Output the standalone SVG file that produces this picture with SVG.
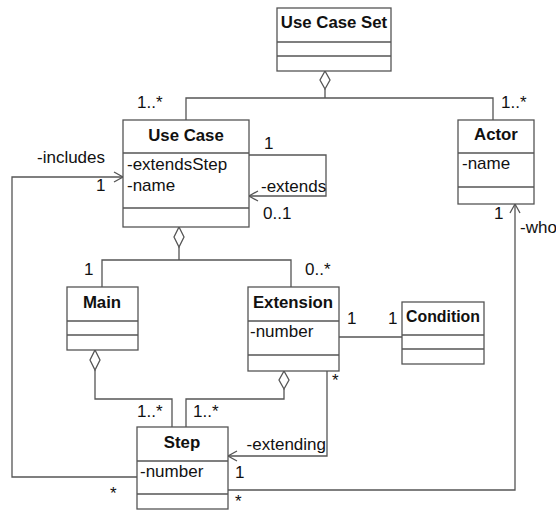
<svg xmlns="http://www.w3.org/2000/svg" width="556" height="511" viewBox="0 0 556 511">
<defs>
<style>
.box{fill:#fff;stroke:#555;stroke-width:1.3}
.ln{fill:none;stroke:#555;stroke-width:1.3}
.dia{fill:#fff;stroke:#555;stroke-width:1.3}
.t{font-family:"Liberation Sans",Arial,sans-serif;font-size:17px;fill:#111}
.b{font-family:"Liberation Sans",Arial,sans-serif;font-size:16.8px;font-weight:bold;fill:#111;text-anchor:middle}
</style>
<marker id="open" markerWidth="12" markerHeight="12" refX="10" refY="6" orient="auto" markerUnits="userSpaceOnUse">
<path d="M1,1 L10,6 L1,11" fill="none" stroke="#555" stroke-width="1.3"/>
</marker>
</defs>
<rect width="556" height="511" fill="#fff"/>

<g id="connectors">
<path class="ln" d="M325,89 V98 M186,120 V98 H493 V120"/>
<path class="dia" d="M325,71 L330,80 L325,89 L320,80 Z"/>
<path class="ln" d="M137,477 H12 V177 H123" marker-end="url(#open)"/>
<path class="ln" d="M249,155 H326 V196 H249" marker-end="url(#open)"/>
<path class="ln" d="M179,247 V260 M102,287 V260 H291 V287"/>
<path class="dia" d="M179,227 L184,237 L179,247 L174,237 Z"/>
<path class="ln" d="M339,337 H402"/>
<path class="ln" d="M95,370 V399 H172 V427"/>
<path class="dia" d="M95,350 L100,360 L95,370 L90,360 Z"/>
<path class="ln" d="M284,389 V399 H186 V427"/>
<path class="dia" d="M284,371 L289,380 L284,389 L279,380 Z"/>
<path class="ln" d="M327,371 V456 H228" marker-end="url(#open)"/>
<path class="ln" d="M228,490 H515 V204" marker-end="url(#open)"/>

<text class="t" x="137" y="108">1..*</text>
<text class="t" x="501" y="108">1..*</text>
<text class="t" x="37" y="163">-includes</text>
<text class="t" x="96" y="191">1</text>
<text class="t" x="264" y="149">1</text>
<text class="t" x="261" y="192">-extends</text>
<text class="t" x="263" y="219">0..1</text>
<text class="t" x="494" y="219">1</text>
<text class="t" x="520" y="233">-who</text>
<text class="t" x="84" y="275">1</text>
<text class="t" x="305" y="275">0..*</text>
<text class="t" x="347" y="324">1</text>
<text class="t" x="388" y="324">1</text>
<text class="t" x="332" y="386">*</text>
<text class="t" x="137" y="417">1..*</text>
<text class="t" x="193" y="417">1..*</text>
<text class="t" x="326" y="450" text-anchor="end">-extending</text>
<text class="t" x="235" y="478">1</text>
<text class="t" x="110" y="499">*</text>
<text class="t" x="235" y="507">*</text>
</g>

<g id="use-case-set">
<rect class="box" x="277" y="8" width="114" height="63"/>
<path class="ln" d="M277,42 H391 M277,56 H391"/>
<text class="b" x="334" y="28">Use Case Set</text>
</g>

<g id="use-case">
<rect class="box" x="123" y="120" width="126" height="107"/>
<path class="ln" d="M123,153 H249 M123,208 H249"/>
<text class="b" x="186" y="141">Use Case</text>
<text class="t" x="127" y="170">-extendsStep</text>
<text class="t" x="127" y="191">-name</text>
</g>

<g id="actor">
<rect class="box" x="458" y="120" width="76" height="84"/>
<path class="ln" d="M458,153 H534 M458,187 H534"/>
<text class="b" x="496" y="140">Actor</text>
<text class="t" x="462" y="169">-name</text>
</g>

<g id="main">
<rect class="box" x="67" y="287" width="71" height="63"/>
<path class="ln" d="M67,321 H138 M67,335 H138"/>
<text class="b" x="102" y="308">Main</text>
</g>

<g id="extension">
<rect class="box" x="248" y="287" width="91" height="84"/>
<path class="ln" d="M248,321 H339 M248,355 H339"/>
<text class="b" x="293" y="308">Extension</text>
<text class="t" x="250" y="337">-number</text>
</g>

<g id="condition">
<rect class="box" x="402" y="302" width="82" height="62"/>
<path class="ln" d="M402,335 H484 M402,349 H484"/>
<text class="b" x="443" y="322" textLength="74" lengthAdjust="spacingAndGlyphs">Condition</text>
</g>

<g id="step">
<rect class="box" x="137" y="427" width="91" height="82"/>
<path class="ln" d="M137,461 H228 M137,494 H228"/>
<text class="b" x="182" y="448">Step</text>
<text class="t" x="140" y="477">-number</text>
</g>
</svg>
